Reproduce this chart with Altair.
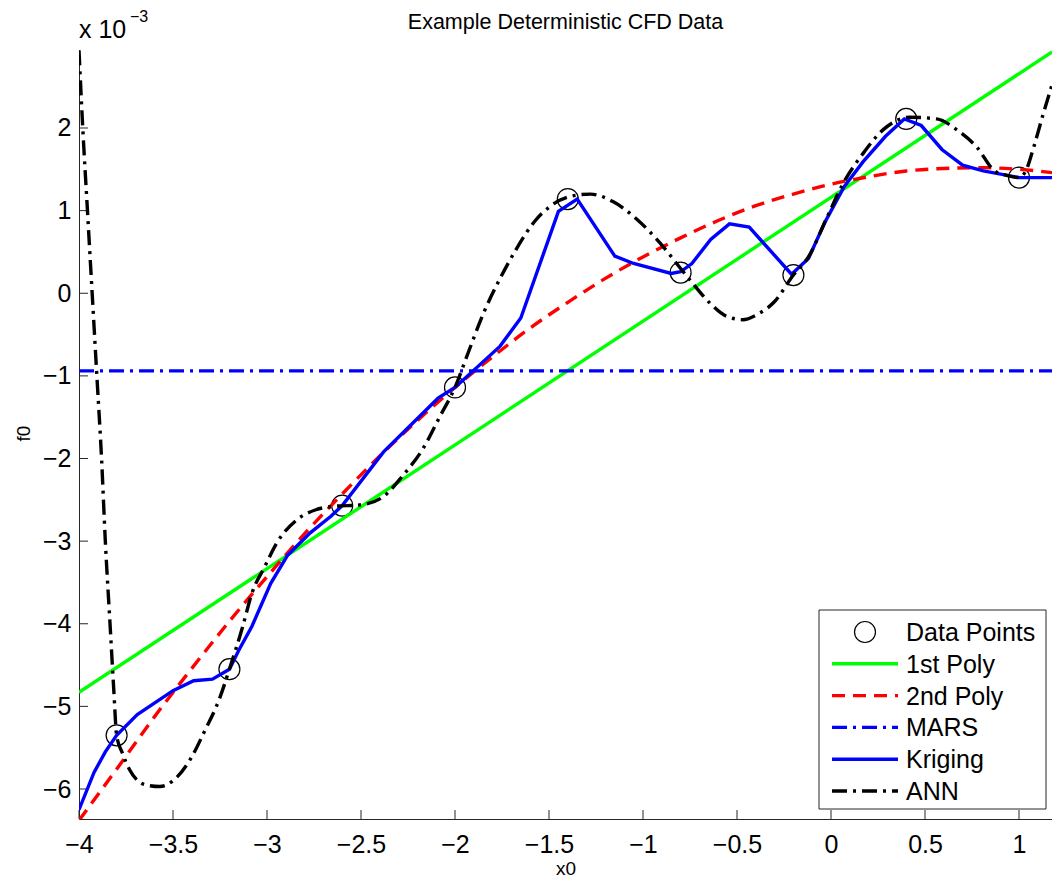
import altair as alt
import pandas as pd

# ---- data (f0 expressed in units of 1e-3) ----
point_x = [-3.8, -3.2, -2.6, -2.0, -1.4, -0.8, -0.2, 0.4, 1.0]
point_y = [-5.35, -4.55, -2.57, -1.14, 1.14, 0.25, 0.22, 2.11, 1.40]

poly1_x = [-4.0, 1.1755]
poly1_y = [-4.83, 2.92]

poly2_x = [-4.0, -3.8, -3.6, -3.4, -3.2, -3.0, -2.8, -2.6, -2.4, -2.2, -2.0, -1.8, -1.6, -1.4,
           -1.2, -1.0, -0.8, -0.6, -0.4, -0.2, 0.0, 0.2, 0.4, 0.6, 0.8, 1.0, 1.1755]
poly2_y = [-6.38, -5.76, -5.13, -4.54, -3.97, -3.43, -2.91, -2.43, -1.97, -1.54, -1.14, -0.77, -0.42, -0.11,
           0.18, 0.44, 0.67, 0.88, 1.06, 1.20, 1.32, 1.41, 1.48, 1.51, 1.52, 1.50, 1.46]

mars_x = [-4.0, 1.1755]
mars_y = [-0.94, -0.94]

krig_x = [-4.0, -3.92, -3.86, -3.8, -3.69, -3.5, -3.39, -3.29, -3.2, -3.15, -3.08, -2.98, -2.89, -2.77,
          -2.66, -2.6, -2.38, -2.09, -2.0, -1.76, -1.65, -1.45, -1.35, -1.15, -1.05, -0.85, -0.8, -0.74,
          -0.64, -0.54, -0.435, -0.21, -0.12, -0.03, 0.07, 0.17, 0.29, 0.39, 0.48, 0.59, 0.70, 0.81, 1.0, 1.1755]
krig_y = [-6.25, -5.80, -5.55, -5.35, -5.10, -4.81, -4.69, -4.67, -4.55, -4.32, -4.03, -3.51, -3.17, -2.90,
          -2.70, -2.57, -1.92, -1.27, -1.14, -0.64, -0.30, 0.99, 1.14, 0.45, 0.36, 0.24, 0.26, 0.36,
          0.65, 0.84, 0.80, 0.23, 0.42, 0.87, 1.29, 1.59, 1.90, 2.11, 2.03, 1.74, 1.55, 1.48, 1.40, 1.40]

ann_x = [-4.0, -3.98, -3.955, -3.93, -3.905, -3.88, -3.86, -3.835, -3.815, -3.8, -3.77, -3.73, -3.645,
         -3.57, -3.495, -3.4, -3.33, -3.255, -3.2, -3.13, -3.08, -3.01, -2.95, -2.84, -2.74, -2.65, -2.5,
         -2.38, -2.275, -2.17, -2.08, -2.0, -1.93, -1.85, -1.76, -1.67, -1.58, -1.495, -1.39, -1.28, -1.16,
         -1.03, -0.91, -0.8, -0.75, -0.644, -0.555, -0.47, -0.395, -0.3, -0.2, -0.12, -0.023, 0.065, 0.17,
         0.278, 0.42, 0.562, 0.668, 0.775, 0.87, 0.93, 1.0, 1.04, 1.076, 1.13, 1.1755]
ann_y = [2.94, 2.00, 1.00, 0.00, -1.00, -2.00, -3.00, -4.00, -4.80, -5.35, -5.56, -5.77, -5.95,
         -5.97, -5.89, -5.61, -5.29, -4.92, -4.55, -4.04, -3.63, -3.30, -3.03, -2.74, -2.62, -2.58, -2.56,
         -2.46, -2.20, -1.88, -1.49, -1.14, -0.72, -0.25, 0.18, 0.55, 0.86, 1.05, 1.17, 1.20, 1.11,
         0.89, 0.61, 0.30, 0.16, -0.12, -0.28, -0.32, -0.26, -0.10, 0.22, 0.44, 0.91, 1.33, 1.69,
         1.98, 2.13, 2.11, 1.98, 1.77, 1.48, 1.43, 1.40, 1.50, 1.75, 2.18, 2.52]

x_ticks = [-4, -3.5, -3, -2.5, -2, -1.5, -1, -0.5, 0, 0.5, 1]
y_ticks = [-6, -5, -4, -3, -2, -1, 0, 1, 2]

legend_labels = ["Data Points", "1st Poly", "2nd Poly", "MARS", "Kriging", "ANN"]
chart_title = "Example Deterministic CFD Data"

# ---- layout / style ----
FONT = "Liberation Sans"
W, H = 973, 769
LW = 3.4
DASH = [13, 8]
DASHDOT = [15, 6, 3, 6]
AXIS_COLOR = "#262626"
TICK_FS = 25

xs = alt.Scale(domain=[-4, 1.1755], nice=False, zero=False)
ys = alt.Scale(domain=[-6.363, 2.944], nice=False, zero=False)

x_axis = alt.Axis(values=x_ticks, labelExpr="format(datum.value, '~g')", ticks=False, grid=False,
                  domainColor=AXIS_COLOR, labelFont=FONT, labelFontSize=TICK_FS, labelColor="black",
                  labelPadding=33, labelBaseline="alphabetic", labelFlush=False,
                  title="x0", titleFont=FONT, titleFontSize=19, titleFontWeight="normal",
                  titleColor="black", titleX=W / 2, titleY=55, titleBaseline="alphabetic")
y_axis = alt.Axis(values=y_ticks, format="~g", ticks=False, grid=False,
                  domainColor=AXIS_COLOR, labelFont=FONT, labelFontSize=TICK_FS, labelColor="black",
                  labelPadding=8, labelFlush=False,
                  title="f0", titleFont=FONT, titleFontSize=19, titleFontWeight="normal",
                  titleColor="black", titleAngle=270, titleX=-50, titleY=383,
                  titleBaseline="alphabetic", titleAlign="center")


def X(field="x"):
    return alt.X(f"{field}:Q", scale=xs, axis=x_axis)


def Y(field="y"):
    return alt.Y(f"{field}:Q", scale=ys, axis=y_axis)


def frame(xv, yv):
    return pd.DataFrame({"x": xv, "y": yv})


# inward tick marks
xtick_layer = alt.Chart(pd.DataFrame({"x": x_ticks})).mark_rule(color=AXIS_COLOR, strokeWidth=1).encode(
    x=X(), y=alt.value(H), y2=alt.value(H - 9))
ytick_layer = alt.Chart(pd.DataFrame({"y": y_ticks})).mark_rule(color=AXIS_COLOR, strokeWidth=1).encode(
    y=Y(), x=alt.value(0), x2=alt.value(9))

points = alt.Chart(frame(point_x, point_y)).mark_point(
    shape="circle", size=440, filled=False, stroke="black", strokeWidth=1.2, opacity=1, clip=True
).encode(x=X(), y=Y())

poly1 = alt.Chart(frame(poly1_x, poly1_y)).mark_line(color="#00FF00", strokeWidth=LW, clip=True).encode(x=X(), y=Y())
poly2 = alt.Chart(frame(poly2_x, poly2_y)).mark_line(
    color="#FF0000", strokeWidth=LW, strokeDash=DASH, interpolate="monotone", clip=True).encode(x=X(), y=Y())
mars = alt.Chart(frame(mars_x, mars_y)).mark_line(
    color="#0000FF", strokeWidth=LW, strokeDash=DASHDOT, clip=True).encode(x=X(), y=Y())
krig = alt.Chart(frame(krig_x, krig_y)).mark_line(color="#0000FF", strokeWidth=LW, clip=True).encode(x=X(), y=Y())
ann = alt.Chart(frame(ann_x, ann_y)).mark_line(
    color="black", strokeWidth=LW, strokeDash=DASHDOT, interpolate="monotone", clip=True).encode(x=X(), y=Y())

# legend box
one = pd.DataFrame({"k": [0]})
legend_box = alt.Chart(one).mark_rect(fill="white", stroke=AXIS_COLOR, strokeWidth=1).encode(
    x=alt.value(740), x2=alt.value(967), y=alt.value(560), y2=alt.value(759))

row_y = [582 + 31.8 * i for i in range(len(legend_labels))]
line_styles = [None,
               ("#00FF00", [1, 0]),
               ("#FF0000", DASH),
               ("#0000FF", DASHDOT),
               ("#0000FF", [1, 0]),
               ("black", DASHDOT)]

legend_layers = [legend_box]
legend_layers.append(
    alt.Chart(one).mark_point(shape="circle", size=440, filled=False, stroke="black", strokeWidth=1.2, opacity=1)
    .encode(x=alt.value(786), y=alt.value(row_y[0])))
for lbl, ry, style in zip(legend_labels, row_y, line_styles):
    if style is not None:
        color, dash = style
        legend_layers.append(
            alt.Chart(pd.DataFrame({"label": [lbl]})).mark_rule(color=color, strokeWidth=LW, strokeDash=dash)
            .encode(x=alt.value(753), x2=alt.value(819), y=alt.value(ry)))
    legend_layers.append(
        alt.Chart(pd.DataFrame({"label": [lbl]})).mark_text(
            align="left", baseline="middle", font=FONT, fontSize=TICK_FS, color="black")
        .encode(x=alt.value(827), y=alt.value(ry + 1), text="label:N"))

# title and axis multiplier annotation
title_layer = alt.Chart(pd.DataFrame({"t": [chart_title]})).mark_text(
    align="center", baseline="alphabetic", font=FONT, fontSize=21.5, color="black"
).encode(x=alt.value(W / 2), y=alt.value(-21), text="t:N")
mult = alt.Chart(one).mark_text(align="left", baseline="alphabetic", font=FONT, fontSize=TICK_FS,
                                color="black", text="x 10").encode(x=alt.value(0), y=alt.value(-12))
mult_exp = alt.Chart(one).mark_text(align="left", baseline="alphabetic", font=FONT, fontSize=16,
                                    color="black", text="\u22123").encode(x=alt.value(51), y=alt.value(-28))

chart = alt.layer(
    xtick_layer, ytick_layer, points, poly1, poly2, mars, krig, ann, *legend_layers,
    title_layer, mult, mult_exp
).properties(
    width=W, height=H,
    padding={"left": 79, "top": 50, "right": 0, "bottom": 62},
    autosize=alt.AutoSizeParams(type="none"),
).configure_view(stroke=None).configure_axis(domainWidth=1)

chart.save("out.html", embed_options={"renderer": "svg", "actions": False})
